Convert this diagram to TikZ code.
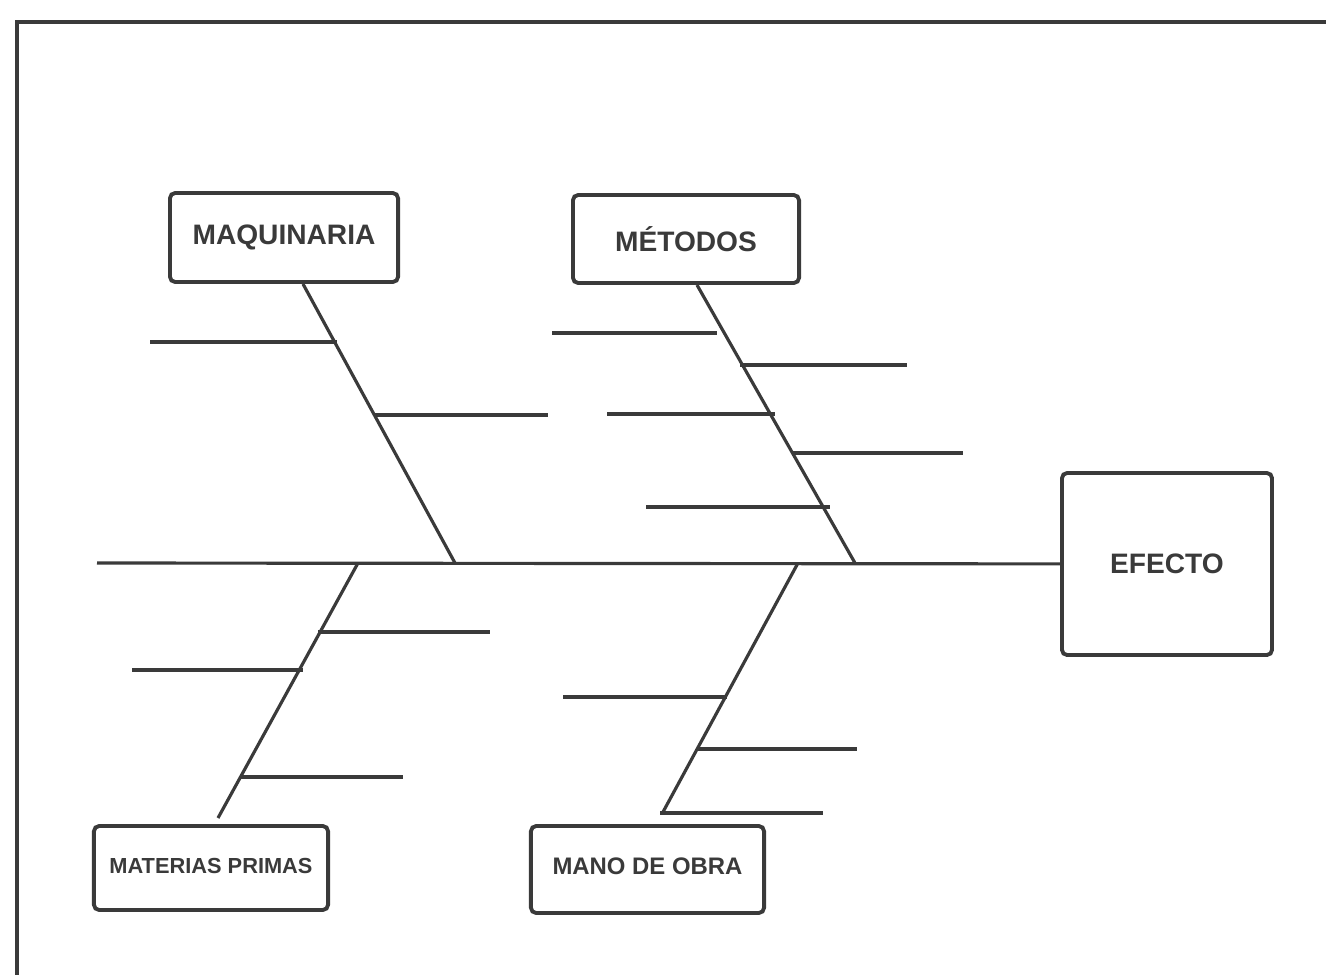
\documentclass[tikz,border=0pt]{standalone}
\usepackage{fontspec}
\setmainfont{Liberation Sans}
\definecolor{ink}{HTML}{3A3A3A}
\begin{document}
\begin{tikzpicture}[
        x=0.01cm, y=-0.01cm,
        causa/.style={draw=ink, line width=1.1pt, rounded corners=1.5pt, inner sep=0pt, text=ink, font=\bfseries\fontsize{8}{9}\selectfont},
        espina/.style={draw=ink, line width=0.9pt},
        marco/.style={draw=ink, line width=1.3pt}
    ]
        \useasboundingbox (0,0) rectangle (1326,975);
        \draw[marco] (17,975) -- (17,22) -- (1326,22);% Frame

        \node[causa, minimum width=2.28cm, minimum height=0.89cm] (maq) at (284,237.5) {MAQUINARIA};
        \node[causa, minimum width=2.26cm, minimum height=0.88cm] (met) at (686,239) {MÉTODOS};
        \node[causa, minimum width=2.10cm, minimum height=1.82cm] (efe) at (1167,564) {EFECTO};
        \node[causa, minimum width=2.34cm, minimum height=0.84cm, font=\bfseries\fontsize{6.2}{7}\selectfont] (mat) at (211,868) {\raisebox{0.5mm}{MATERIAS PRIMAS}};
        \node[causa, minimum width=2.33cm, minimum height=0.87cm, font=\bfseries\fontsize{6.8}{8}\selectfont] (man) at (647.5,869.5) {\raisebox{0.6mm}{MANO DE OBRA}};

        \coordinate (cola) at (97,563);
        \coordinate (m1) at (455,563);
        \coordinate (m2) at (855,563);
        \coordinate (m3) at (358,563);
        \coordinate (m4) at (798,563);
        \coordinate (p3) at (218,818);
        \coordinate (p4) at (663,812);

        \draw[espina] (cola) -- (efe);% Spine
        \draw[espina] ([xshift=0.19cm]maq.south) -- (m1);
        \draw[espina] ([xshift=0.11cm]met.south) -- (m2);
        \draw[espina] (m3) -- (p3);
        \draw[espina] (m4) -- (p4);

        % Maquinaria
        \draw[espina] (150,342) -- (337,342);
        \draw[espina] (375,415) -- (548,415);
        % Metodos
        \draw[espina] (552,333) -- (717,333);
        \draw[espina] (740,365) -- (907,365);
        \draw[espina] (607,414) -- (775,414);
        \draw[espina] (793,453) -- (963,453);
        \draw[espina] (646,507) -- (830,507);
        % Materias primas
        \draw[espina] (318,632) -- (490,632);
        \draw[espina] (132,670) -- (303,670);
        \draw[espina] (240,777) -- (403,777);
        % Mano de obra
        \draw[espina] (563,697) -- (727,697);
        \draw[espina] (697,749) -- (857,749);
        \draw[espina] (660,813) -- (823,813);
    \end{tikzpicture}
\end{document}
